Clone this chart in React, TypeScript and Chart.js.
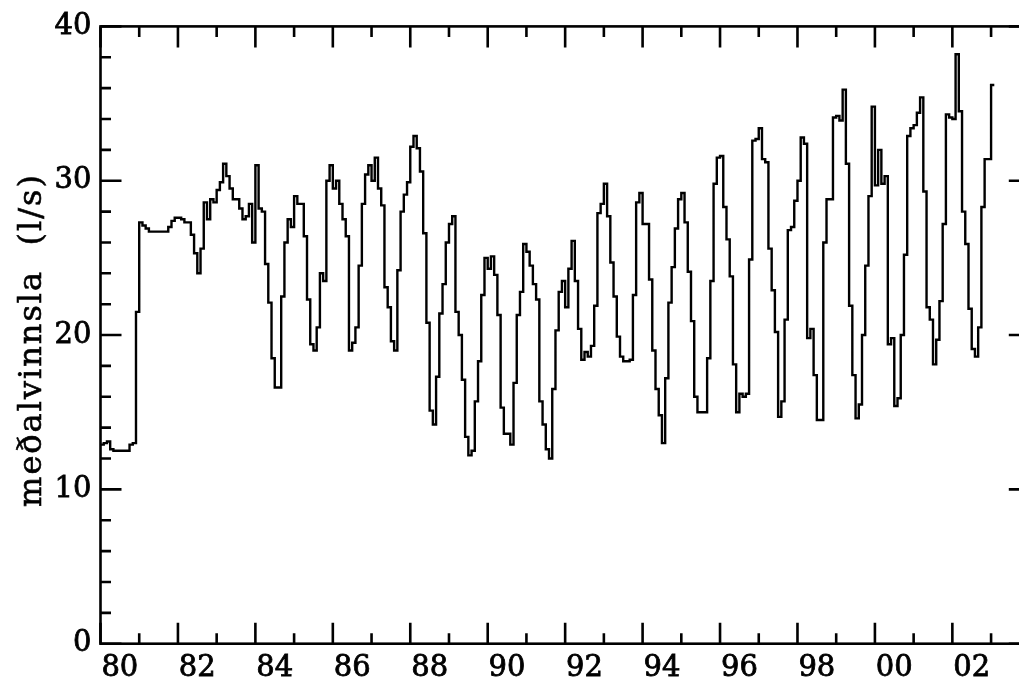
import { useEffect, useRef } from 'react';
import { Chart, registerables } from 'chart.js';

Chart.register(...registerables);

// ---- data (monthly mean production, l/s), Jan 1980 .. Jan 2003 ----
const startYear = 1980;
const axisMinYear = 1980;
const axisMaxYear = 2004;

const flow1980 = [12.9, 13.0, 13.1, 12.6, 12.5, 12.5, 12.5, 12.5, 12.5, 12.9, 13.0, 21.5];
const flow1981 = [27.3, 27.1, 26.9, 26.7, 26.7, 26.7, 26.7, 26.7, 26.7, 27.0, 27.4, 27.6];
const flow1982 = [27.6, 27.5, 27.3, 27.3, 26.5, 25.3, 24.0, 25.6, 28.6, 27.5, 28.8, 28.6];
const flow1983 = [29.4, 29.9, 31.1, 30.3, 29.5, 28.8, 28.8, 28.2, 27.5, 27.7, 28.5, 26.0];
const flow1984 = [31.0, 28.2, 28.0, 24.6, 22.1, 18.5, 16.6, 16.6, 22.5, 26.0, 27.5, 27.0];
const flow1985 = [29.0, 28.5, 28.5, 26.4, 22.3, 19.4, 19.0, 20.5, 24.0, 23.5, 30.0, 31.0];
const flow1986 = [29.5, 30.0, 28.5, 27.5, 26.4, 19.0, 19.5, 20.5, 24.5, 28.5, 30.4, 31.0];
const flow1987 = [30.0, 31.5, 29.5, 28.4, 23.1, 21.8, 19.6, 19.0, 24.2, 28.0, 29.1, 29.9];
const flow1988 = [32.2, 32.9, 32.1, 30.6, 26.6, 20.8, 15.1, 14.2, 17.3, 21.4, 23.3, 26.0];
const flow1989 = [27.2, 27.7, 21.5, 20.0, 17.1, 13.4, 12.2, 12.5, 15.7, 18.3, 22.6, 25.0];
const flow1990 = [24.3, 25.1, 23.9, 21.3, 15.3, 13.6, 13.6, 12.9, 16.9, 21.3, 22.8, 25.9];
const flow1991 = [25.4, 24.5, 23.3, 22.3, 15.7, 14.2, 12.6, 12.0, 16.5, 20.3, 22.8, 23.5];
const flow1992 = [21.8, 24.3, 26.1, 23.5, 20.4, 18.4, 18.9, 18.6, 19.3, 21.9, 27.9, 28.5];
const flow1993 = [29.8, 27.7, 24.7, 22.5, 19.9, 18.6, 18.3, 18.3, 18.4, 22.6, 28.6, 29.2];
const flow1994 = [27.2, 27.2, 23.6, 19.0, 16.5, 14.8, 13.0, 17.2, 22.1, 24.4, 26.9, 28.8];
const flow1995 = [29.2, 27.3, 24.1, 20.9, 16.0, 15.0, 15.0, 15.0, 18.5, 23.5, 29.8, 31.5];
const flow1996 = [31.6, 28.3, 26.2, 23.8, 18.1, 15.0, 16.2, 16.0, 16.2, 24.9, 32.6, 32.7];
const flow1997 = [33.4, 31.4, 31.2, 25.6, 22.9, 20.2, 14.7, 15.7, 21.0, 26.8, 27.0, 28.7];
const flow1998 = [30.0, 32.8, 32.4, 19.8, 20.4, 17.4, 14.5, 14.5, 26.0, 28.8, 28.8, 34.1];
const flow1999 = [34.2, 33.9, 35.9, 31.1, 21.9, 17.4, 14.6, 15.5, 20.0, 24.5, 29.0, 34.8];
const flow2000 = [29.7, 32.0, 29.8, 30.3, 19.4, 19.8, 15.4, 15.9, 20.0, 25.2, 32.9, 33.4];
const flow2001 = [33.6, 34.4, 35.4, 29.3, 21.8, 21.0, 18.1, 19.7, 22.2, 27.2, 34.3, 34.1];
const flow2002 = [34.0, 38.2, 34.5, 28.0, 25.9, 21.7, 19.1, 18.6, 20.5, 28.3, 31.4, 31.4];
const flow2003 = [36.2];

const yearlyFlows = [
  flow1980, flow1981, flow1982, flow1983, flow1984, flow1985, flow1986, flow1987,
  flow1988, flow1989, flow1990, flow1991, flow1992, flow1993, flow1994, flow1995,
  flow1996, flow1997, flow1998, flow1999, flow2000, flow2001, flow2002, flow2003,
];

const xLabelYears = [1980, 1982, 1984, 1986, 1988, 1990, 1992, 1994, 1996, 1998, 2000, 2002];
const xTickLabels = ['80', '82', '84', '86', '88', '90', '92', '94', '96', '98', '00', '02'];
const yLabelValues = [0, 10, 20, 30, 40];
const yTickLabels = ['0', '10', '20', '30', '40'];
const yTitle = 'meðalvinnsla  (l/s)';

// monthly step points: value i is held from month i to month i+1
const monthly = yearlyFlows.flat();
const points = monthly.map((v, i) => ({ x: startYear + i / 12, y: v }));
points.push({ x: startYear + monthly.length / 12, y: monthly[monthly.length - 1] });

const FONT = '"DejaVu Serif", "Liberation Serif", serif';

const frameAndTicks = {
  id: 'frameAndTicks',
  afterDraw(chart: any) {
    const { ctx, chartArea: a, scales } = chart;
    const xs = scales.x;
    const ys = scales.y;
    ctx.save();
    ctx.strokeStyle = '#000';
    ctx.lineWidth = 2.6;
    ctx.lineCap = 'butt';
    ctx.strokeRect(a.left, a.top, a.right - a.left, a.bottom - a.top);
    ctx.beginPath();
    xs.ticks.forEach((t: any) => {
      const px = xs.getPixelForValue(t.value);
      const len = Math.round(t.value) % 2 === 0 ? 21 : 10.5;
      ctx.moveTo(px, a.bottom);
      ctx.lineTo(px, a.bottom - len);
      ctx.moveTo(px, a.top);
      ctx.lineTo(px, a.top + len);
    });
    ys.ticks.forEach((t: any) => {
      const py = ys.getPixelForValue(t.value);
      const len = Math.round(t.value) % 10 === 0 ? 21 : 10.5;
      ctx.moveTo(a.left, py);
      ctx.lineTo(a.left + len, py);
      ctx.moveTo(a.right, py);
      ctx.lineTo(a.right - len, py);
    });
    ctx.stroke();

    // y-axis title
    ctx.fillStyle = '#000';
    ctx.strokeStyle = '#000';
    ctx.lineWidth = 0.6;
    ctx.font = '32px ' + FONT;
    (ctx as any).letterSpacing = '2px';
    ctx.textAlign = 'center';
    ctx.textBaseline = 'alphabetic';
    ctx.translate(41, 340);
    ctx.rotate(-Math.PI / 2);
    ctx.fillText(yTitle, 0, 0);
    ctx.strokeText(yTitle, 0, 0);
    ctx.restore();
  },
};

export default function App() {
  const ref = useRef<HTMLCanvasElement>(null);

  useEffect(() => {
    const canvas = ref.current;
    if (!canvas) return;
    const tickFont = { family: FONT, size: 29 };
    const chart = new Chart(canvas, {
      type: 'line',
      data: {
        datasets: [
          {
            data: points,
            borderColor: '#000',
            borderWidth: 2.4,
            pointRadius: 0,
            pointHoverRadius: 0,
            stepped: 'before',
            fill: false,
            tension: 0,
            borderJoinStyle: 'miter',
            borderCapStyle: 'butt',
          },
        ],
      },
      options: {
        animation: false,
        responsive: false,
        events: [],
        layout: { padding: { left: 0, right: 10.2, top: 23.7, bottom: 0 } },
        plugins: { legend: { display: false }, tooltip: { enabled: false }, title: { display: false } },
        scales: {
          x: {
            type: 'linear',
            min: axisMinYear,
            max: axisMaxYear,
            grid: { display: false, drawTicks: false },
            border: { display: false },
            ticks: {
              stepSize: 1,
              autoSkip: false,
              maxRotation: 0,
              minRotation: 0,
              padding: 7,
              labelOffset: 19.36,
              color: '#000',
              textStrokeColor: '#000',
              textStrokeWidth: 0.8,
              font: tickFont,
              callback: (v: any) => {
                const i = xLabelYears.indexOf(Math.round(Number(v)));
                return i >= 0 ? xTickLabels[i] : '';
              },
            },
            afterFit: (s: any) => {
              s.height = 36.3;
            },
          },
          y: {
            type: 'linear',
            min: 0,
            max: 40,
            grid: { display: false, drawTicks: false },
            border: { display: false },
            ticks: {
              stepSize: 2,
              autoSkip: false,
              padding: 9,
              color: '#000',
              textStrokeColor: '#000',
              textStrokeWidth: 0.8,
              font: tickFont,
              callback: (v: any) => {
                const i = yLabelValues.indexOf(Math.round(Number(v)));
                return i >= 0 ? yTickLabels[i] : '';
              },
            },
            afterFit: (s: any) => {
              s.width = 100.5;
            },
          },
        },
      },
      plugins: [frameAndTicks],
    } as any);
    return () => chart.destroy();
  }, []);

  return (
    <div
      style={{
        position: 'fixed',
        left: 0,
        top: 0,
        width: 1019,
        height: 680,
        overflow: 'hidden',
        background: '#fff',
      }}
    >
      <canvas ref={ref} width={1040} height={680} style={{ display: 'block', width: 1040, height: 680 }} />
    </div>
  );
}
